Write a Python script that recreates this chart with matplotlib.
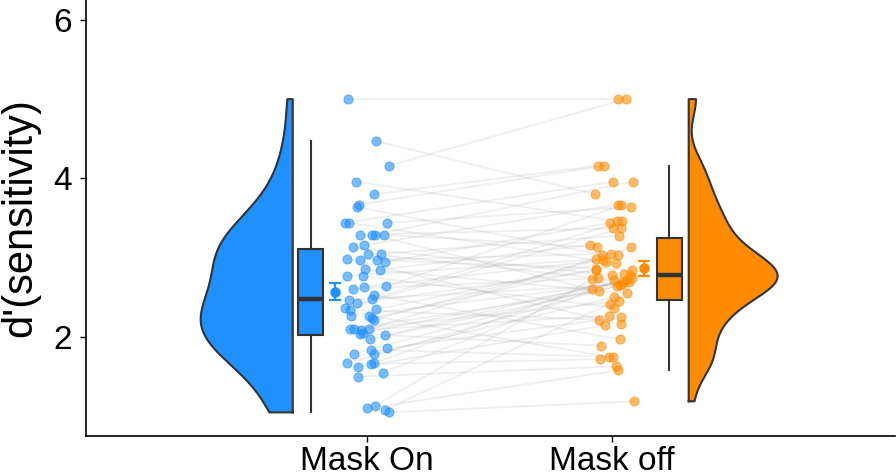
import numpy as np
import matplotlib
matplotlib.use("Agg")
import matplotlib.pyplot as plt

plt.rcParams['font.family'] = ['Liberation Sans', 'DejaVu Sans']

# ---------------- data ----------------
categories = ["Mask On", "Mask off"]

# paired d' values (same index = same participant)
mask_on = [5.00, 4.47, 4.16, 3.96, 3.80, 3.64, 3.67, 3.44, 3.44, 3.44,
           3.29, 3.29, 3.29, 3.29, 3.13, 3.16, 3.05, 3.05, 2.99, 2.97,
           2.97, 2.95, 2.86, 2.85, 2.77, 2.77, 2.64, 2.61, 2.63, 2.53,
           2.48, 2.47, 2.43, 2.36, 2.34, 2.35, 2.27, 2.27, 2.22, 2.24,
           2.10, 2.10, 2.09, 2.05, 2.04, 2.10, 1.97, 2.02, 1.79, 1.84,
           1.79, 1.86, 1.67, 1.66, 1.67, 1.62, 1.50, 1.55, 1.10, 1.13,
           1.08, 1.05]
mask_off = [5.00, 3.80, 5.00, 3.46, 4.16, 3.04, 4.16, 3.96, 2.93, 3.64,
            3.37, 2.60, 3.96, 3.13, 2.78, 3.67, 2.72, 3.28, 2.16, 3.05,
            2.85, 3.44, 2.55, 3.16, 2.98, 2.37, 3.66, 2.74, 2.97, 1.97,
            3.46, 2.66, 2.84, 3.37, 2.22, 2.94, 2.69, 1.75, 3.04, 2.86,
            2.58, 2.45, 2.27, 2.70, 1.89, 3.13, 2.64, 2.75, 2.72, 1.75,
            2.50, 2.25, 2.67, 1.72, 2.80, 2.15, 1.63, 2.78, 1.58, 2.73,
            2.42, 1.19]

# horizontal jitter of each point (offset from its category centre)
on_jitter = [-0.078, 0.038, 0.089, -0.045, 0.029, -0.041, -0.034, -0.091, -0.075, 0.080,
             -0.030, 0.022, 0.031, 0.069, -0.056, -0.012, 0.002, 0.056, -0.083, -0.030,
             0.042, 0.075, -0.008, 0.052, -0.080, -0.016, 0.078, -0.056, -0.012, 0.029,
             0.022, -0.073, -0.042, -0.091, -0.071, 0.038, -0.065, 0.007, 0.029, 0.020,
             -0.071, -0.053, -0.024, -0.016, -0.027, 0.007, 0.014, 0.073, -0.053, 0.015,
             0.029, 0.080, -0.080, 0.018, 0.027, -0.038, -0.038, 0.065, -0.002, 0.031,
             0.075, 0.089]
off_jitter = [0.024, -0.068, 0.056, 0.022, -0.057, -0.041, -0.034, 0.006, 0.015, 0.076,
              0.004, -0.080, 0.086, -0.061, 0.000, 0.024, 0.008, 0.029, 0.036, -0.004,
              0.083, -0.008, 0.060, -0.088, -0.064, 0.007, 0.038, -0.057, -0.037, 0.033,
              0.041, 0.031, -0.064, 0.036, -0.054, -0.026, 0.069, -0.012, 0.024, -0.067,
              -0.055, 0.030, -0.013, 0.045, -0.047, 0.079, 0.022, 0.080, 0.061, 0.002,
              0.010, 0.036, 0.041, -0.050, 0.050, -0.027, 0.018, 0.072, 0.026, -0.082,
              -0.010, 0.090]

# ---------------- style / layout ----------------
colors = ["#1E90FF", "#FF8C00"]
edge = "#333333"
centers = [1.0, 2.0]
violin_base = [0.697, 2.313]     # flat side of half violins
violin_width = [-0.376, 0.363]   # signed max width
box_pos = [0.770, 2.233]
mean_pos = [0.868, 2.129]

fig = plt.figure(figsize=(8.96, 4.74), dpi=100)
ax = fig.add_axes([86 / 896, 38 / 474, 809 / 896, 436 / 474])

groups = [np.array(mask_on), np.array(mask_off)]
jitters = [np.array(on_jitter), np.array(off_jitter)]

# paired lines
for i in range(len(mask_on)):
    ax.plot([centers[0] + on_jitter[i], centers[1] + off_jitter[i]],
            [mask_on[i], mask_off[i]], color="#9a9a9a", alpha=0.16,
            lw=1.3, zorder=1, solid_capstyle="round")


def kde(vals, grid):
    n = len(vals)
    sd = np.std(vals, ddof=1)
    q75, q25 = np.percentile(vals, [75, 25])
    bw = 0.9 * min(sd, (q75 - q25) / 1.34) * n ** (-0.2)
    z = (grid[:, None] - vals[None, :]) / bw
    return np.exp(-0.5 * z ** 2).sum(1) / (n * bw * np.sqrt(2 * np.pi))


for k in range(2):
    v = groups[k]
    grid = np.linspace(v.min(), v.max(), 400)
    d = kde(v, grid)
    d = d / d.max() * violin_width[k]
    xs = violin_base[k] + d
    ax.fill_betweenx(grid, violin_base[k], xs, facecolor=colors[k],
                     edgecolor="none", zorder=2)
    outline_x = np.concatenate([[violin_base[k]], xs, [violin_base[k], violin_base[k]]])
    outline_y = np.concatenate([[grid[0]], grid, [grid[-1], grid[0]]])
    ax.plot(outline_x, outline_y, color=edge, lw=1.5, zorder=3)

    bp = ax.boxplot([v], positions=[box_pos[k]], widths=0.102,
                    patch_artist=True, showfliers=False, showcaps=False,
                    whis=1.5, manage_ticks=False, zorder=3)
    for b in bp["boxes"]:
        b.set_facecolor(colors[k])
        b.set_edgecolor(edge)
        b.set_linewidth(1.5)
    for w in bp["whiskers"]:
        w.set_color(edge)
        w.set_linewidth(1.5)
    for m in bp["medians"]:
        m.set_color(edge)
        m.set_linewidth(3.2)

    ax.scatter(centers[k] + jitters[k], v, s=42, color=colors[k],
               alpha=0.58, edgecolors=colors[k], linewidths=0.8, zorder=4)

    mean = v.mean()
    se = v.std(ddof=1) / np.sqrt(len(v))
    ax.errorbar([mean_pos[k]], [mean], yerr=[se], fmt="o", color=colors[k],
                ms=6.5, capsize=4.5, elinewidth=1.6, capthick=1.6, zorder=5)

ax.set_xlim(-0.147, 3.155)
ax.set_ylim(0.752, 6.25)
ax.set_xticks(centers)
ax.set_xticklabels(categories)
ax.set_yticks([2, 4, 6])
ax.set_ylabel("d'(sensitivity)", fontsize=30)
ax.yaxis.set_label_coords(-0.057, 0.5)

for s in ["top", "right"]:
    ax.spines[s].set_visible(False)
for s in ["left", "bottom"]:
    ax.spines[s].set_linewidth(1.2)
    ax.spines[s].set_color("black")
ax.tick_params(axis="both", labelsize=24, length=4, width=1.0, colors="black")
ax.tick_params(axis="x", pad=3.5)
ax.tick_params(axis="y", pad=6)

fig.savefig("out.png", dpi=100)
